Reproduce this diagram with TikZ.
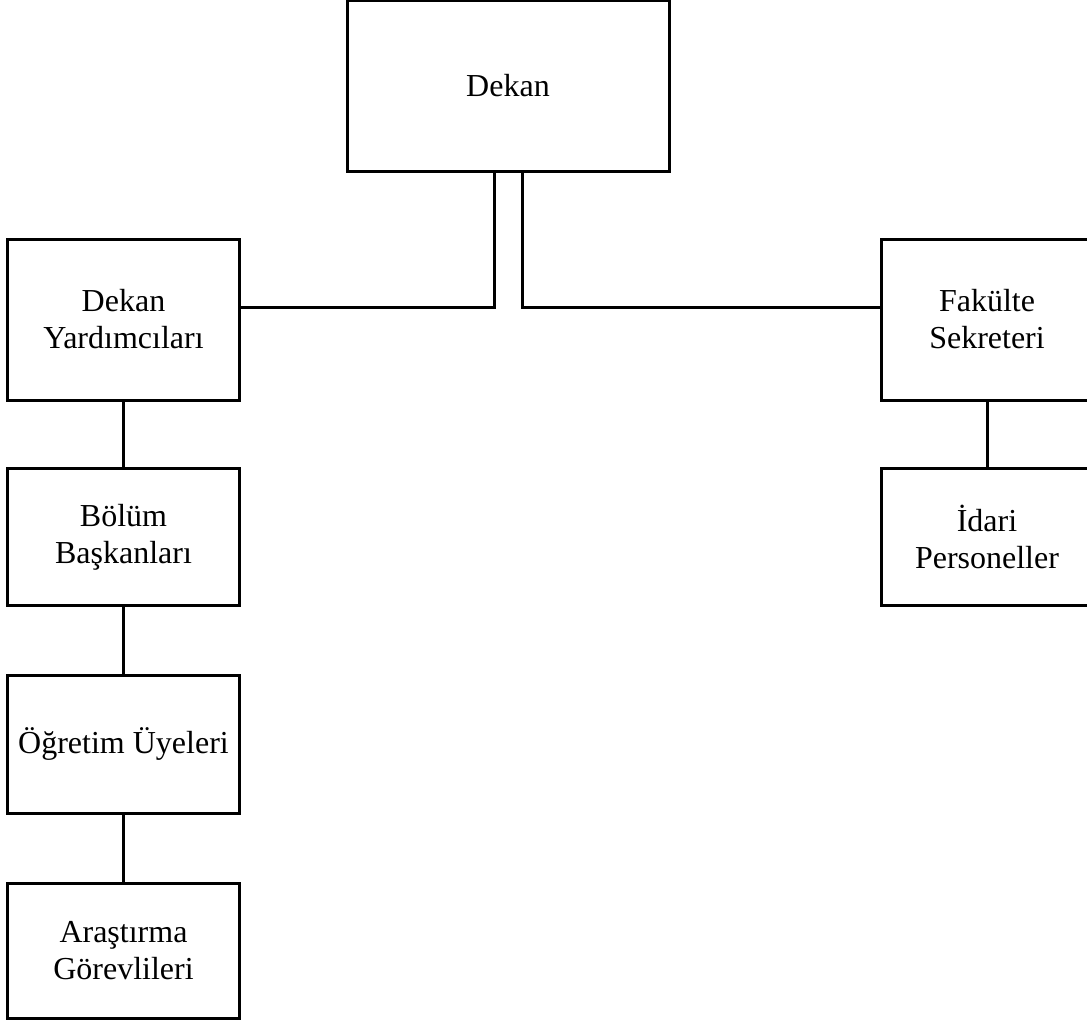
\documentclass[tikz,border=0pt]{standalone}
\usepackage{fontspec}
\setmainfont{Liberation Serif}
\usepackage{tikz}
\usetikzlibrary{positioning}
\tikzset{
  unit/.style={rectangle, draw=black, line width=3pt, align=center,
               minimum width=232pt, minimum height=137pt, inner sep=0pt,
               font=\fontsize{32}{37}\selectfont},
  link/.style={draw, line width=3pt}
}

\begin{document}
\begin{tikzpicture}[x=1pt,y=-1pt]
      \useasboundingbox (0,0) rectangle (1087,1022);

      % Draw top box.
      \node[unit, minimum width=322pt, minimum height=170pt] (dekan) at (508,86) {Dekan};

      % Draw left column.
      \node[unit, minimum height=161pt] (yard) at (123.5,319.5) {Dekan\\Yardımcıları};
      \node[unit] (bolum) at (123.5,537) {Bölüm\\Başkanları};
      \node[unit, minimum height=138pt] (ogretim) at (123.5,744) {Öğretim Üyeleri};
      \node[unit, minimum height=135pt] (arastirma) at (123.5,951) {Araştırma\\Görevlileri};

      % Draw right column.
      \node[unit, minimum width=212pt, minimum height=161pt] (fakulte) at (987,319.5) {Fakülte\\Sekreteri};
      \node[unit, minimum width=212pt] (idari) at (987,537) {İdari\\Personeller};

      % Connect the boxes.
      \draw[link] ([xshift=-14pt]dekan.south) |- ([yshift=12.5pt]yard.east);
      \draw[link] ([xshift=14pt]dekan.south) |- ([yshift=12.5pt]fakulte.west);
      \draw[link] (yard) -- (bolum);
      \draw[link] (bolum) -- (ogretim);
      \draw[link] (ogretim) -- (arastirma);
      \draw[link] (fakulte) -- (idari);

\end{tikzpicture}
\end{document}
